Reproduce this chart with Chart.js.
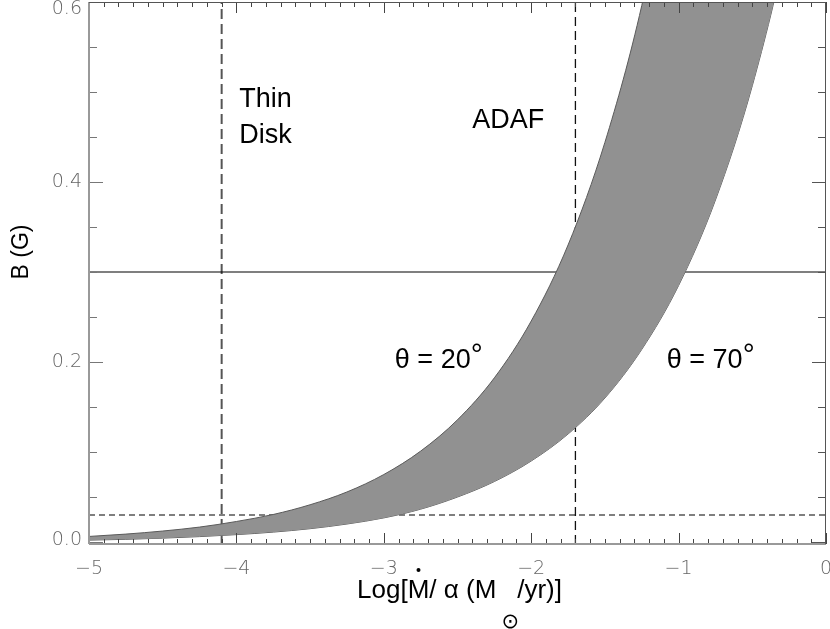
<!DOCTYPE html>
<html>
<head>
<meta charset="utf-8">
<script src="https://cdn.jsdelivr.net/npm/chart.js@4/dist/chart.umd.min.js"></script>
<style>
  html, body { margin: 0; padding: 0; background: #fff; }
</style>
</head>
<body>
<canvas id="chart" width="830" height="629"></canvas>
<script>
// x = Log[Mdot/alpha], y = B (G)
const logMdot = [-5.0, -4.75, -4.5, -4.25, -4.0, -3.75, -3.5, -3.25, -3.0, -2.75, -2.5,
                 -2.25, -2.0, -1.75, -1.5, -1.25, -1.0, -0.75, -0.5, -0.25, 0.0];
const bTheta20 = [0.0062, 0.0088, 0.0122, 0.0166, 0.0228, 0.0306, 0.0414, 0.0556, 0.0750, 0.1010, 0.1358,
                  0.1824, 0.2455, 0.330, 0.444, 0.596, 0.802, 1.077, 1.45, 1.95, 2.62];
const bTheta70 = [0.0021, 0.0030, 0.0043, 0.0060, 0.0082, 0.0110, 0.0148, 0.0200, 0.0268, 0.0365, 0.0500,
                  0.0672, 0.0900, 0.1200, 0.1600, 0.2140, 0.2850, 0.3800, 0.5070, 0.6760, 0.9010];

const bSolid = 0.3;      // horizontal solid line
const bDashed = 0.03;    // horizontal dashed line
const xThinDisk = -4.1;  // vertical dashed lines
const xAdaf = -1.7;

const xRange = [-5, 0];
const yRange = [-0.0022, 0.6];
const xTicks = [-5, -4, -3, -2, -1, 0];
const yTicks = [0.0, 0.2, 0.4, 0.6];
const xMinorStep = 0.1;
const yMinorStep = 0.05;

const xTitle = ['Log[', 'M', '/ \u03b1 (M ', '\u2299', '/yr)]'];
const yTitle = 'B (G)';

const labels = [
  { text: 'Thin', x: -3.98, y: 0.483 },
  { text: 'Disk', x: -3.98, y: 0.443 },
  { text: 'ADAF', x: -2.40, y: 0.460 },
  { text: '\u03b8 = 20', deg: true, x: -2.925, y: 0.193 },
  { text: '\u03b8 = 70', deg: true, x: -1.08, y: 0.193 }
];

const toPts = (xs, ys) => xs.map((v, i) => ({ x: v, y: ys[i] }));

function seg(ctx, x1, y1, x2, y2, color, width) {
  ctx.strokeStyle = color;
  ctx.lineWidth = width;
  ctx.beginPath();
  ctx.moveTo(x1, y1);
  ctx.lineTo(x2, y2);
  ctx.stroke();
}

// axes box, inward ticks, tick labels, titles and text labels
const framePlugin = {
  id: 'frame',
  afterDatasetsDraw(chart) {
    const { ctx, chartArea: a, scales: { x, y } } = chart;
    ctx.save();

    // ticks along x (bottom + top)
    const nx = Math.round((xRange[1] - xRange[0]) / xMinorStep);
    for (let i = 0; i <= nx; i++) {
      const v = xRange[0] + i * xMinorStep;
      const px = Math.round(x.getPixelForValue(v)) + 0.5;
      const len = i % 10 === 0 ? 11 : 5;
      seg(ctx, px, a.bottom, px, a.bottom - len, '#444', 1);
      seg(ctx, px, a.top, px, a.top + len, '#444', 1);
    }
    // ticks along y (left + right)
    const ny = Math.round(0.6 / yMinorStep);
    for (let i = 0; i <= ny; i++) {
      const v = i * yMinorStep;
      const py = Math.round(y.getPixelForValue(v)) + 0.5;
      const len = i % 4 === 0 ? 14 : 8;
      seg(ctx, a.left, py, a.left + len, py, '#777', 1);
      seg(ctx, a.right, py, a.right - len, py, '#555', 1);
    }

    // box
    seg(ctx, a.left, a.top, a.left, a.bottom, '#999', 2);
    seg(ctx, a.left, a.bottom, a.right, a.bottom, '#999', 2);
    seg(ctx, a.left, a.top + 0.5, a.right, a.top + 0.5, '#555', 1);
    seg(ctx, a.right - 0.5, a.top, a.right - 0.5, a.bottom, '#555', 1);

    // tick labels
    ctx.fillStyle = '#666';
    ctx.font = '300 19px "DejaVu Sans", sans-serif';
    ctx.textBaseline = 'middle';
    ctx.textAlign = 'center';
    xTicks.forEach(v => {
      const t = v < 0 ? '\u2212' + Math.abs(v) : String(v);
      ctx.fillText(t, x.getPixelForValue(v), a.bottom + 25);
    });
    ctx.textAlign = 'right';
    yTicks.forEach(v => {
      const py = Math.min(Math.max(y.getPixelForValue(v), a.top + 7), a.bottom - 4);
      ctx.fillText(v.toFixed(1), a.left - 7, py);
    });

    // x title
    ctx.fillStyle = '#000';
    ctx.textAlign = 'left';
    ctx.textBaseline = 'alphabetic';
    const mainFont = '26px "Liberation Sans", Arial, sans-serif';
    const sunFont = '21px "DejaVu Sans", sans-serif';
    ctx.font = mainFont;
    const w0 = ctx.measureText(xTitle[0]).width;
    const w1 = ctx.measureText(xTitle[1]).width;
    const w2 = ctx.measureText(xTitle[2]).width;
    const w4 = ctx.measureText(xTitle[4]).width;
    ctx.font = sunFont;
    const w3 = ctx.measureText(xTitle[3]).width;
    const total = w0 + w1 + w2 + w3 + w4 - 4;
    const base = a.bottom + 54;
    let cx = (a.left + a.right) / 2 - total / 2 + 2;
    ctx.font = mainFont;
    ctx.fillText(xTitle[0], cx, base); cx += w0;
    ctx.fillText(xTitle[1], cx, base);
    ctx.beginPath();
    ctx.arc(cx + w1 / 2, base - 28, 2, 0, Math.PI * 2);
    ctx.fill();
    cx += w1;
    ctx.fillText(xTitle[2], cx, base); cx += w2 - 2;
    ctx.font = sunFont;
    ctx.fillText(xTitle[3], cx, base + 30); cx += w3 - 2;
    ctx.font = mainFont;
    ctx.fillText(xTitle[4], cx, base);

    // y title
    ctx.save();
    ctx.translate(28, (a.top + a.bottom) / 2 - 21);
    ctx.rotate(-Math.PI / 2);
    ctx.textAlign = 'center';
    ctx.font = '23px "Liberation Sans", Arial, sans-serif';
    ctx.fillText(yTitle, 0, 0);
    ctx.restore();

    // labels in the plot
    const lblFont = '27px "Liberation Sans", Arial, sans-serif';
    ctx.font = lblFont;
    ctx.textAlign = 'left';
    labels.forEach(l => {
      const px = x.getPixelForValue(l.x);
      const py = y.getPixelForValue(l.y);
      ctx.fillText(l.text, px, py);
      if (l.deg) {
        const w = ctx.measureText(l.text).width;
        ctx.font = '30px "Liberation Sans", Arial, sans-serif';
        ctx.fillText('\u00b0', px + w, py - 4);
        ctx.font = lblFont;
      }
    });

    ctx.restore();
  }
};

const bandLine = {
  showLine: true,
  pointRadius: 0,
  borderWidth: 1,
  borderColor: '#5a5a5a',
  cubicInterpolationMode: 'monotone',
  capBezierPoints: false,
  clip: 0
};

new Chart(document.getElementById('chart'), {
  type: 'scatter',
  data: {
    datasets: [
      Object.assign({ label: 'theta = 20', data: toPts(logMdot, bTheta20),
        fill: '+1', backgroundColor: '#919191' }, bandLine),
      Object.assign({ label: 'theta = 70', data: toPts(logMdot, bTheta70),
        fill: false }, bandLine),
      { label: 'B = 0.3', data: [{ x: xRange[0], y: bSolid }, { x: xRange[1], y: bSolid }],
        showLine: true, pointRadius: 0, borderColor: '#000', borderWidth: 1.1 },
      { label: 'B = 0.03', data: [{ x: xRange[0], y: bDashed }, { x: xRange[1], y: bDashed }],
        showLine: true, pointRadius: 0, borderColor: '#000', borderWidth: 1.1, borderDash: [6, 4] },
      { label: 'thin disk', data: [{ x: xThinDisk, y: yRange[0] }, { x: xThinDisk, y: yRange[1] }],
        showLine: true, pointRadius: 0, borderColor: '#555', borderWidth: 2, borderDash: [10, 5] },
      { label: 'ADAF', data: [{ x: xAdaf, y: yRange[0] }, { x: xAdaf, y: yRange[1] }],
        showLine: true, pointRadius: 0, borderColor: '#111', borderWidth: 1.3, borderDash: [9, 5] }
    ]
  },
  options: {
    responsive: false,
    animation: false,
    layout: { padding: { left: 89, right: 4, top: 2, bottom: 85 } },
    plugins: { legend: { display: false }, tooltip: { enabled: false } },
    scales: {
      x: { type: 'linear', min: xRange[0], max: xRange[1], display: false },
      y: { type: 'linear', min: yRange[0], max: yRange[1], display: false }
    }
  },
  plugins: [framePlugin]
});
</script>
</body>
</html>
